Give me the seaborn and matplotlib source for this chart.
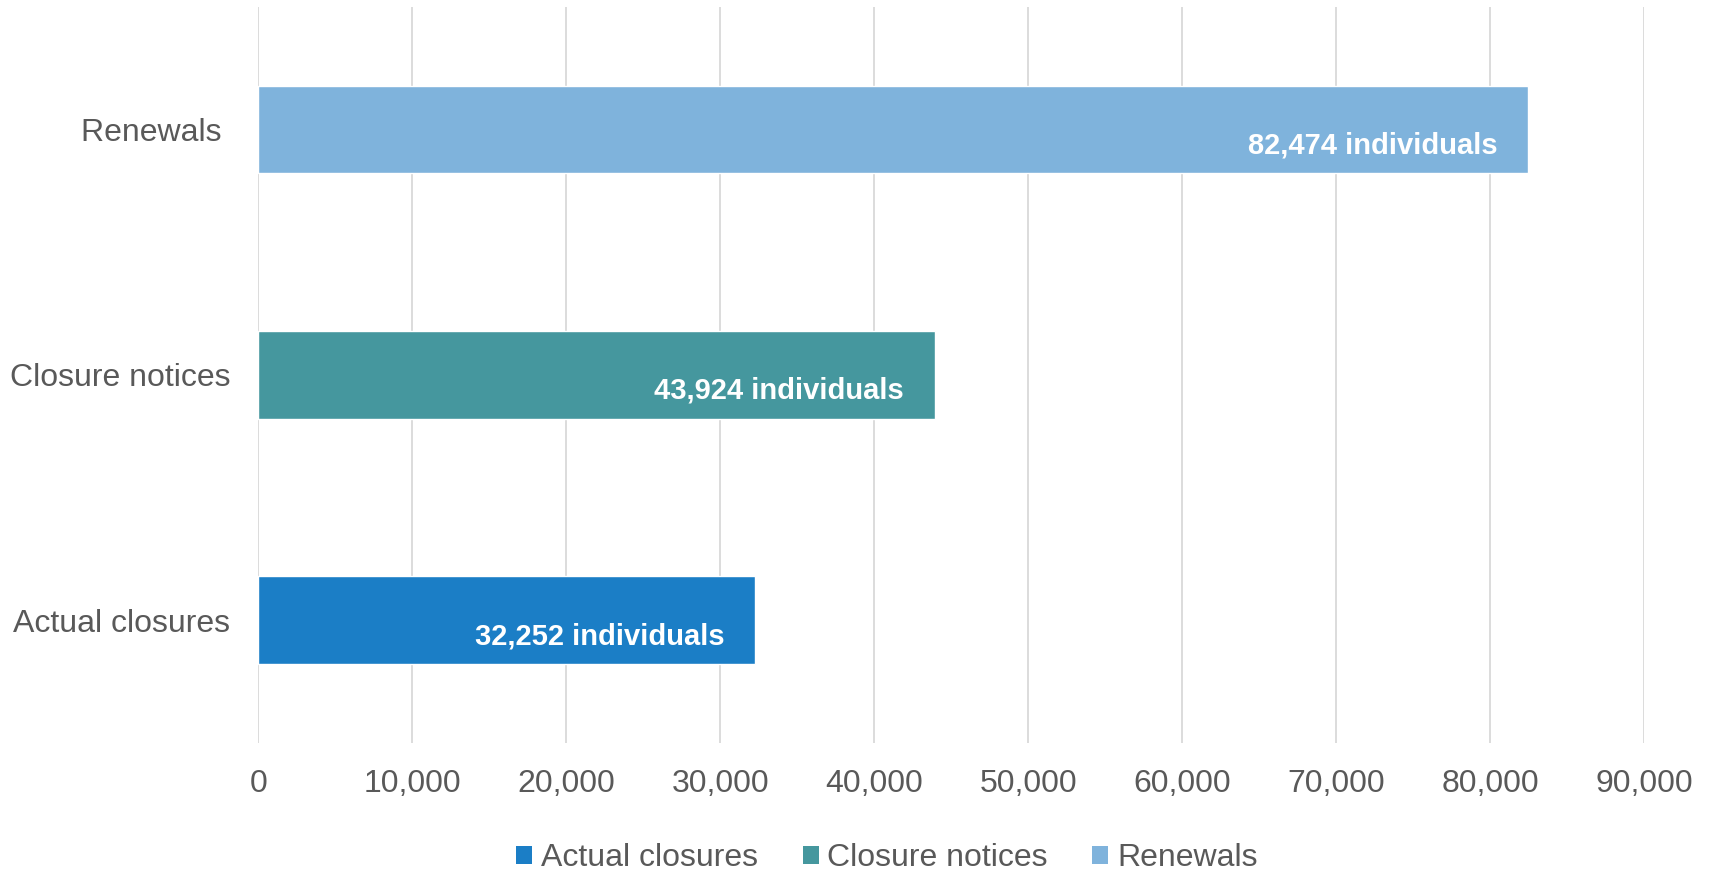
import matplotlib
matplotlib.use("Agg")
import matplotlib.pyplot as plt
from matplotlib.patches import Patch
from matplotlib.ticker import FuncFormatter
import seaborn as sns
import pandas as pd

# Data
categories = ["Renewals", "Closure notices", "Actual closures"]
category_labels = ["Renewals ", "Closure notices", "Actual closures"]
individuals = [82474, 43924, 32252]
legend_order = ["Actual closures", "Closure notices", "Renewals"]
colors = {"Actual closures": "#1B7EC6", "Closure notices": "#45979E", "Renewals": "#7FB3DC"}
x_ticks = [0, 10000, 20000, 30000, 40000, 50000, 60000, 70000, 80000, 90000]

df = pd.DataFrame({"category": categories, "individuals": individuals})

sns.set_theme(style="white")
plt.rcParams["font.family"] = ["Liberation Sans", "DejaVu Sans"]
text_grey = "#595959"

fig = plt.figure(figsize=(17.09, 8.72), dpi=100)
ax = fig.add_axes([0.1511, 0.148, 0.8109, 0.844])

sns.barplot(
    data=df, y="category", x="individuals", hue="category",
    order=categories, hue_order=legend_order, palette=colors,
    orient="h", width=0.357, dodge=False, legend=False, ax=ax,
    saturation=1,
)

ax.set_xlim(0, 90000)
ax.set_xticks(x_ticks)
ax.xaxis.set_major_formatter(FuncFormatter(lambda v, p: f"{int(v):,}"))
ax.set_yticks(range(len(categories)))
ax.set_yticklabels(category_labels)
ax.set_xlabel("")
ax.set_ylabel("")
ax.grid(axis="x", color="#D9D9D9", linewidth=1.3)
ax.grid(axis="y", visible=False)
ax.set_axisbelow(True)
for s in ax.spines.values():
    s.set_visible(False)
ax.tick_params(axis="x", length=0, pad=18.5, labelsize=23, labelcolor=text_grey)
ax.tick_params(axis="y", length=0, pad=20, labelsize=23, labelcolor=text_grey)

# Value labels inside the bar ends
for i, (cat, val) in enumerate(zip(categories, individuals)):
    ax.annotate(f"{val:,} individuals", xy=(val, i), xytext=(-22, -11.5),
                textcoords="offset points", ha="right", va="center",
                fontsize=21, fontweight="bold", color="white")

handles = [Patch(facecolor=colors[c], edgecolor="none", label=c) for c in legend_order]
fig.legend(handles=handles, loc="center", bbox_to_anchor=(0.519, 0.016), ncol=3,
           frameon=False, fontsize=23, labelcolor=text_grey,
           handlelength=0.5, handleheight=0.5, handletextpad=0.27,
           columnspacing=1.4, borderpad=0, borderaxespad=0)

fig.savefig("out.png", dpi=100)
